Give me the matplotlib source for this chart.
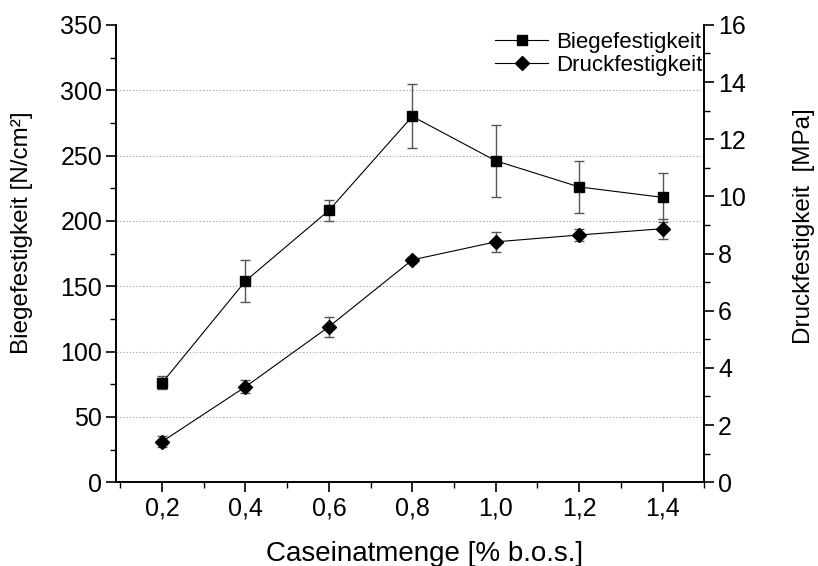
import matplotlib
matplotlib.use("Agg")
import matplotlib.pyplot as plt
from matplotlib.lines import Line2D
from matplotlib.ticker import MultipleLocator, FuncFormatter

plt.rcParams["font.family"] = ["Liberation Sans", "DejaVu Sans"]

casein = [0.2, 0.4, 0.6, 0.8, 1.0, 1.2, 1.4]
biege = [76, 154, 208, 280, 246, 226, 218]
biege_err = [5, 16, 8, 24.5, 27.5, 20, 19]
druck = [1.42, 3.34, 5.44, 7.78, 8.41, 8.65, 8.87]
druck_err = [0.2, 0.22, 0.35, 0.1, 0.35, 0.22, 0.35]

fig = plt.figure(figsize=(8.18, 5.66), dpi=100)
ax = fig.add_axes([0.142, 0.148, 0.719, 0.808])
ax2 = ax.twinx()

# dotted horizontal grid
for y in [50, 100, 150, 200, 250, 300]:
    ax.axhline(y, color="#999999", lw=0.8, ls=(0, (1, 2)), zorder=0)

ax.errorbar(casein, biege, yerr=biege_err, color="black", lw=0.8,
            marker="s", ms=6.5, ecolor="#555555", elinewidth=1.0,
            capsize=3.5, capthick=1.0, zorder=3)
ax2.errorbar(casein, druck, yerr=druck_err, color="black", lw=0.8,
             marker="D", ms=7, ecolor="#555555", elinewidth=1.0,
             capsize=3.5, capthick=1.0, zorder=3)

ax.set_xlim(0.09, 1.5)
ax.set_ylim(0, 350)
ax2.set_ylim(0, 16)

ax.xaxis.set_major_locator(MultipleLocator(0.2))
ax.xaxis.set_minor_locator(MultipleLocator(0.1))
ax.xaxis.set_major_formatter(FuncFormatter(lambda v, p: f"{v:.1f}".replace(".", ",")))
ax.yaxis.set_major_locator(MultipleLocator(50))
ax.yaxis.set_minor_locator(MultipleLocator(25))
ax2.yaxis.set_major_locator(MultipleLocator(2))
ax2.yaxis.set_minor_locator(MultipleLocator(1))

for a in (ax, ax2):
    a.spines["top"].set_visible(False)
    for s in a.spines.values():
        s.set_linewidth(1.2)
    a.tick_params(which="major", direction="out", length=7, width=1.2,
                  labelsize=18, pad=3)
    a.tick_params(which="minor", direction="out", length=4, width=1.0)

ax.set_xlabel("Caseinatmenge [% b.o.s.]", fontsize=20)
ax.set_ylabel("Biegefestigkeit [N/cm²]", fontsize=17.5)
ax2.set_ylabel("Druckfestigkeit  [MPa]", fontsize=17.5)
ax.xaxis.set_label_coords(0.525, -0.128)
ax.yaxis.set_label_coords(-0.141, 0.545)
ax2.yaxis.set_label_coords(1.151, 0.56)

handles = [
    Line2D([], [], color="black", lw=0.8, marker="s", ms=6.5),
    Line2D([], [], color="black", lw=0.8, marker="D", ms=7),
]
ax.legend(handles, ["Biegefestigkeit", "Druckfestigkeit"], loc="upper right",
          frameon=False, fontsize=16, handlelength=2.4, handletextpad=0.35,
          borderaxespad=0.0, labelspacing=0.1, bbox_to_anchor=(1.012, 1.005))

fig.savefig("out.png", dpi=100)
